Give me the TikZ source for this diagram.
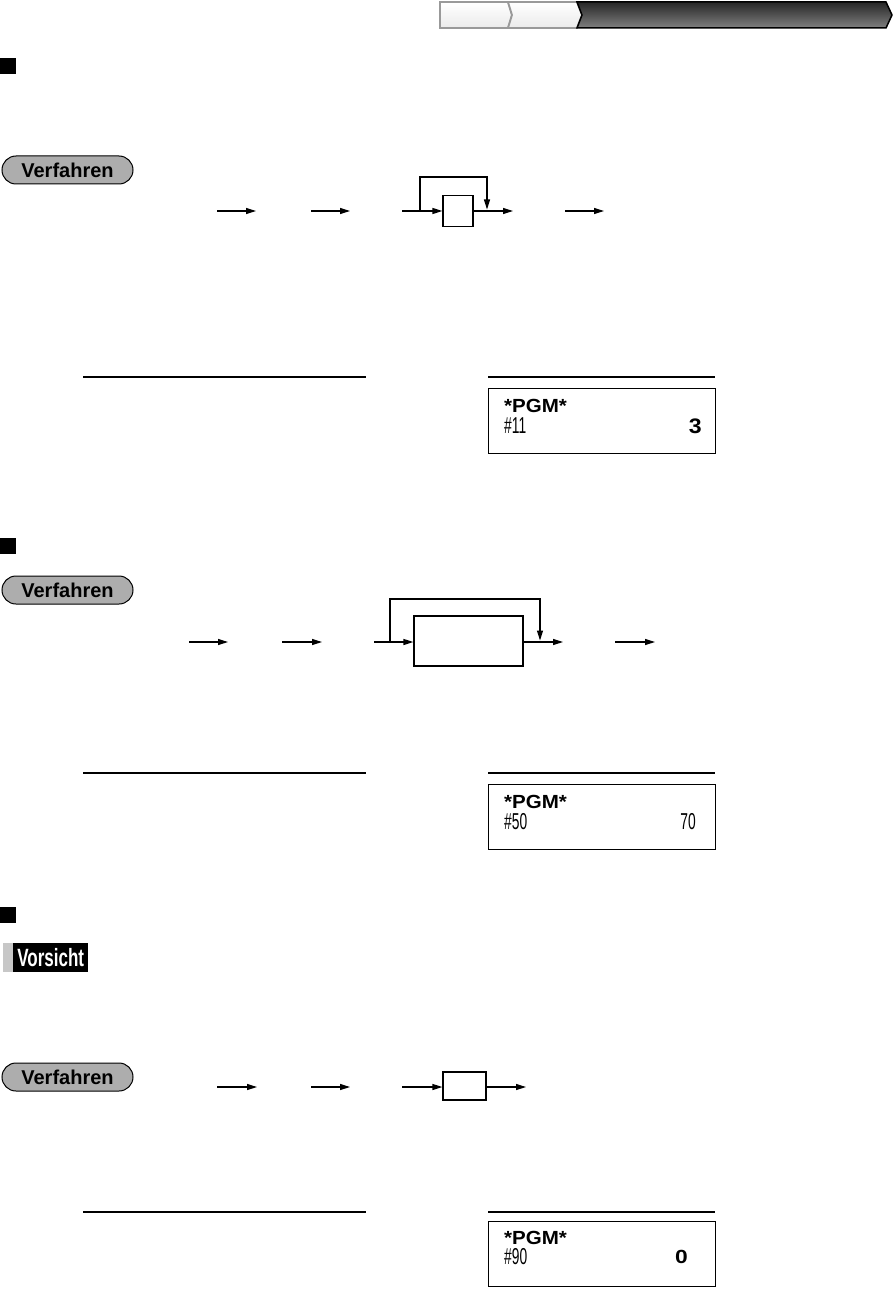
\documentclass[tikz,border=0pt]{standalone}
\usepackage{fontspec}
\setmainfont{Liberation Sans}
\usetikzlibrary{arrows.meta,positioning}

\tikzset{
	flow/.style={line width=1.2pt, -{Triangle[length=10pt,width=6pt]}},
	keybox/.style={draw, line width=1.2pt, inner sep=0pt},
	pill/.style={draw, line width=1pt, fill=black!32, rounded corners=14pt,
		minimum width=131pt, minimum height=28pt, inner sep=0pt,
		font=\fontsize{20}{20}\selectfont\bfseries},
	display/.style={draw, line width=1.2pt, minimum width=227pt,
		minimum height=65pt, inner sep=0pt, anchor=north west},
	rule/.style={line width=1.5pt},
	pgmtext/.style={anchor=base west, inner sep=0pt,
		font=\fontsize{19}{19}\selectfont\bfseries},
	numtext/.style={anchor=base west, inner sep=0pt,
		font=\fontsize{23}{23}\selectfont},
	valtext/.style={anchor=base east, inner sep=0pt}
}

\begin{document}
\begin{tikzpicture}[x=1pt, y=-1pt]
	\useasboundingbox (0,0) rectangle (893,1289);

	% header bar
	\draw[line width=1.8pt, black!40, top color=white, bottom color=black!8]
		(440,2)--(508,2)--(512,15)--(508,28)--(440,28)--cycle;
	\draw[line width=1.8pt, black!40, top color=white, bottom color=black!8]
		(508,2)--(577,2)--(582,15)--(577,28)--(508,28)--(512,15)--cycle;
	\draw[line width=1.5pt, black, top color=black!85, bottom color=black!50]
		(577,2)--(886,2)--(892,15)--(886,28)--(577,28)--(582,15)--cycle;

	% section markers
	\foreach \y in {58, 538, 907}
		\fill (0,\y) rectangle (16,\y+16);

	% Verfahren labels
	\node[pill] (pill1) at (67.5,170) {Verfahren};
	\node[pill] (pill2) at (67.5,590) {Verfahren};
	\node[pill] (pill3) at (67.5,1077) {Verfahren};

	% Vorsicht label
	\fill[black!22] (3,943) rectangle (13,972);
	\node[fill=black, text=white, inner sep=0pt, minimum width=75pt,
		minimum height=29pt, anchor=west,
		font=\fontsize{25}{25}\selectfont\bfseries]
		(caution) at (13,957.5) {\scalebox{0.68}[1]{Vorsicht}};

	% flow 1
	\coordinate (a1) at (217,211); \coordinate (b1) at (256,211);
	\coordinate (a2) at (311,211); \coordinate (b2) at (350,211);
	\coordinate (a3) at (402,211);
	\node[keybox, minimum width=30pt, minimum height=31pt] (key1) at (458,211) {};
	\coordinate (b4) at (513,211);
	\coordinate (a5) at (565,211); \coordinate (b5) at (604,211);
	\coordinate (fork1) at (420,211); \coordinate (merge1) at (487,211);
	\draw[flow] (a1)--(b1);
	\draw[flow] (a2)--(b2);
	\draw[flow] (a3)--(key1.west);
	\draw[flow] (key1.east)--(b4);
	\draw[flow] (a5)--(b5);
	\draw[flow, shorten >=1.5pt] (fork1)--++(0,-34)-|(merge1);

	% flow 2
	\coordinate (c1) at (189,642); \coordinate (d1) at (228,642);
	\coordinate (c2) at (282,642); \coordinate (d2) at (322,642);
	\coordinate (c3) at (374,642);
	\node[keybox, minimum width=109pt, minimum height=50pt] (key2) at (468.5,641) {};
	\coordinate (d4) at (563,642);
	\coordinate (c5) at (615,642); \coordinate (d5) at (655,642);
	\coordinate (fork2) at (390,642); \coordinate (merge2) at (540,642);
	\draw[flow] (c1)--(d1);
	\draw[flow] (c2)--(d2);
	\draw[flow] (c3)--(c3-|key2.west);
	\draw[flow] (d4-|key2.east)--(d4);
	\draw[flow] (c5)--(d5);
	\draw[flow, shorten >=1.5pt] (fork2)--++(0,-43)-|(merge2);

	% flow 3
	\coordinate (e1) at (217,1087); \coordinate (f1) at (257,1087);
	\coordinate (e2) at (311,1087); \coordinate (f2) at (350,1087);
	\coordinate (e3) at (402,1087);
	\node[keybox, minimum width=43pt, minimum height=28pt] (key3) at (464.5,1086) {};
	\coordinate (f4) at (526,1087);
	\draw[flow] (e1)--(f1);
	\draw[flow] (e2)--(f2);
	\draw[flow] (e3)--(e3-|key3.west);
	\draw[flow] (f4-|key3.east)--(f4);

	% rules
	\foreach \y in {377, 773, 1212} {
		\draw[rule] (83,\y)--(366,\y);
		\draw[rule] (488,\y)--(715,\y);
	}

	% displays
	\node[display] (disp1) at (488,388) {};
	\node[pgmtext] (pgm1) at (504,412) {\scalebox{1.08}[1]{*PGM*}};
	\node[numtext] (num1) at (504,433) {\scalebox{0.6}[1]{\#11}};
	\node[valtext, font=\fontsize{21}{21}\selectfont\bfseries] (val1) at (702,433) {\scalebox{1.1}[1]{3}};

	\node[display] (disp2) at (488,784) {};
	\node[pgmtext] (pgm2) at (504,808) {\scalebox{1.08}[1]{*PGM*}};
	\node[numtext] (num2) at (504,829) {\scalebox{0.6}[1]{\#50}};
	\node[valtext, font=\fontsize{23}{23}\selectfont] (val2) at (696,829) {\scalebox{0.6}[1]{70}};

	\node[display] (disp3) at (488,1221) {};
	\node[pgmtext] (pgm3) at (504,1244) {\scalebox{1.08}[1]{*PGM*}};
	\node[numtext] (num3) at (504,1264) {\scalebox{0.6}[1]{\#90}};
	\node[valtext, font=\fontsize{19}{19}\selectfont\bfseries] (val3) at (688,1263) {\scalebox{1.2}[1]{0}};
\end{tikzpicture}
\end{document}
